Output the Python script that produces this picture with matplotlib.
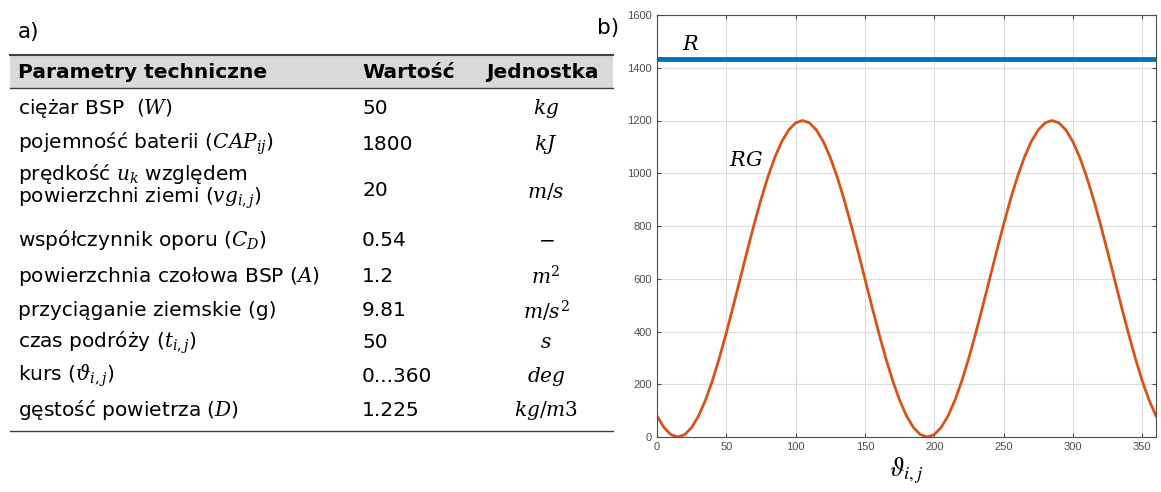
import matplotlib
matplotlib.use("Agg")
import matplotlib.pyplot as plt
from matplotlib.patches import Rectangle

plt.rcParams["font.family"] = ["DejaVu Sans"]
plt.rcParams["mathtext.fontset"] = "dejavuserif"

# table a)
header = ["Parametry techniczne", "Wartość", "Jednostka"]
param_labels = [
    "ciężar BSP  ($W$)",
    "pojemność baterii ($CAP_{ij}$)",
    "prędkość $u_k$ względem\npowierzchni ziemi ($vg_{i,j}$)",
    "współczynnik oporu ($C_D$)",
    "powierzchnia czołowa BSP ($A$)",
    "przyciąganie ziemskie (g)",
    "czas podróży ($t_{i,j}$)",
    "kurs ($\\vartheta_{i,j}$)",
    "gęstość powietrza ($D$)",
]
param_values = ["50", "1800", "20", "0.54", "1.2", "9.81", "50", "0...360", "1.225"]
param_units = ["$kg$", "$kJ$", "$m/s$", "$-$", "$m^2$", "$m/s^2$", "$s$", "$deg$", "$kg/m3$"]

# chart b)
theta = list(range(0, 361, 5))
rg = [80, 36, 9, 0, 9, 36, 80, 140, 214, 300, 395, 496, 600, 704, 805, 900, 986,
      1060, 1120, 1164, 1191, 1200, 1191, 1164, 1120, 1060, 986, 900, 805, 704,
      600, 496, 395, 300, 214, 140, 80, 36, 9, 0, 9, 36, 80, 140, 214, 300, 395,
      496, 600, 704, 805, 900, 986, 1060, 1120, 1164, 1191, 1200, 1191, 1164,
      1120, 1060, 986, 900, 805, 704, 600, 496, 395, 300, 214, 140, 80]
r_level = 1435
x_ticks = [0, 50, 100, 150, 200, 250, 300, 350]
y_ticks = [0, 200, 400, 600, 800, 1000, 1200, 1400, 1600]

W, H = 1161, 492
fig = plt.figure(figsize=(W / 100, H / 100), dpi=100)

# ---- table drawn in pixel-like coordinates
tab = fig.add_axes([0, 0, 1, 1])
tab.set_xlim(0, W)
tab.set_ylim(H, 0)
tab.axis("off")

fs = 14.5
tab.text(18, 32, "a)", fontsize=15.5, va="center", ha="left")
tab.add_patch(Rectangle((10, 55), 603, 33, facecolor="#d9d9d9", edgecolor="none"))
tab.plot([10, 613], [55, 55], color="#404040", lw=1.5)
tab.plot([10, 613], [88, 88], color="#404040", lw=1.0)
tab.plot([10, 613], [431, 431], color="#404040", lw=1.0)

col_x = [18, 362, 546]
tab.text(col_x[0], 72, header[0], fontsize=fs, fontweight="bold", va="center")
tab.text(col_x[1], 72, header[1], fontsize=fs, fontweight="bold", va="center")
tab.text(col_x[2] - 4, 72, header[2], fontsize=fs, fontweight="bold", va="center", ha="center")

row_y = [108, 144, 186, 240, 277, 311, 343, 376, 410]
for y, lab, val, unit in zip(row_y, param_labels, param_values, param_units):
    lines = lab.split("\n")
    two = len(lines) > 1
    if not two:
        tab.text(col_x[0], y, lab, fontsize=fs, va="center")
    else:
        # two-line label, placed by baseline so the lines don't collide
        tab.text(col_x[0], y - 6, lines[0], fontsize=fs, va="baseline")
        tab.text(col_x[0], y + 17, lines[1], fontsize=fs, va="baseline")
    tab.text(col_x[1], y + (5 if two else 0), val, fontsize=fs, va="center")
    tab.text(col_x[2], y + (5 if two else 0), unit, fontsize=fs, va="center", ha="center")

# ---- chart b)
fig.text(608 / W, 1 - 28 / H, "b)", fontsize=15.5, va="center", ha="center")
ax = fig.add_axes([657 / W, 1 - 437 / H, (1156 - 657) / W, (437 - 15) / H])
ax.axhline(r_level, color="#0072BD", lw=3.5)
ax.plot(theta, rg, color="#D95319", lw=2)
ax.set_xlim(0, 360)
ax.set_ylim(0, 1600)
ax.set_xticks(x_ticks)
ax.set_yticks(y_ticks)
ax.grid(True, color="#dcdcdc", lw=0.8)
ax.tick_params(direction="in", top=True, right=True, labelsize=8,
               labelcolor="#4d4d4d", color="#4d4d4d", length=3)
for lab in ax.get_xticklabels() + ax.get_yticklabels():
    lab.set_family("Liberation Sans")
for sp in ax.spines.values():
    sp.set_color("#4d4d4d")
    sp.set_linewidth(0.8)
ax.text(24, 1490, "$R$", fontsize=15, ha="center", va="center")
ax.text(64, 1050, "$RG$", fontsize=15, ha="center", va="center")
ax.set_xlabel("$\\vartheta_{i,j}$", fontsize=19, labelpad=3, math_fontfamily="stix")

fig.savefig("out.png", dpi=100)
